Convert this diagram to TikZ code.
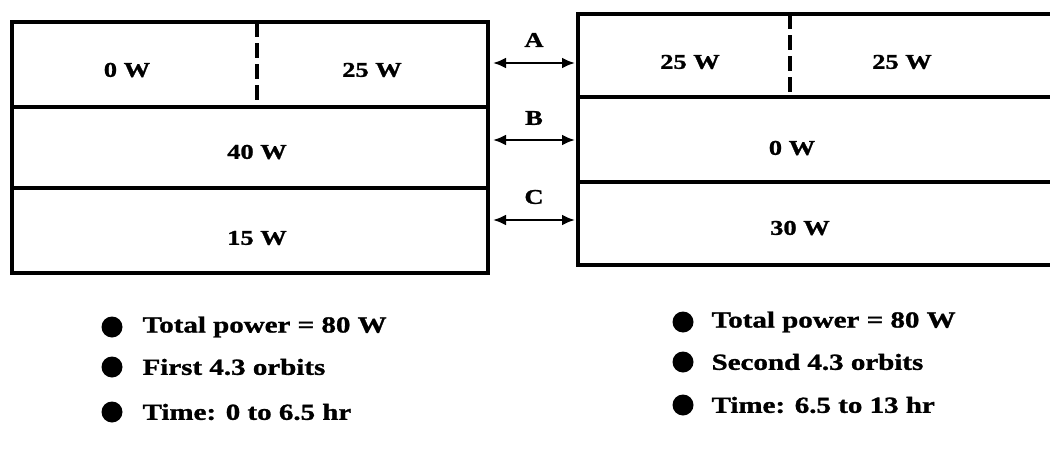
\documentclass[tikz,border=0pt]{standalone}
\usepackage{fontspec}
\setmainfont{Liberation Serif}[FakeStretch=1.26,FakeBold=1.2]
\usetikzlibrary{arrows.meta}
\begin{document}
\begin{tikzpicture}[x=1pt,y=-1pt,line width=3.2pt,
  cell/.style={font=\fontsize{21}{23}\selectfont\bfseries,inner sep=0pt},
  lab/.style={font=\fontsize{21}{23}\selectfont\bfseries,inner sep=0pt},
  note/.style={font=\fontsize{23}{25}\selectfont\bfseries,inner sep=0pt,anchor=west},
  dot/.style={circle,fill=black,minimum size=21pt,inner sep=0pt},
  link/.style={line width=2.4pt,{Latex[length=13pt,width=11pt]}-{Latex[length=13pt,width=11pt]}},
  divider/.style={dash pattern=on 15pt off 6pt}]
\useasboundingbox (0,0) rectangle (1050,463);
% left box
\draw (12,22) rectangle (488,273);
\draw (12,107) -- (488,107);
\draw (12,188) -- (488,188);
\draw[divider] (257,22) -- (257,107);
% right box
\draw (1060,14) -- (578,14) -- (578,265) -- (1060,265);
\draw (578,97) -- (1060,97);
\draw (578,182) -- (1060,182);
\draw[divider] (790,14) -- (790,97);
% cell texts
\node[cell] (l1) at (127,70) {0 W};
\node[cell] (l2) at (372,70) {25 W};
\node[cell] (l3) at (257,152) {40 W};
\node[cell] (l4) at (257,238) {15 W};
\node[cell] (r1) at (690,62) {25 W};
\node[cell] (r2) at (902,62) {25 W};
\node[cell] (r3) at (792,148) {0 W};
\node[cell] (r4) at (800,228) {30 W};
% connectors
\coordinate (aL) at (493,63); \coordinate (aR) at (575,63);
\coordinate (bL) at (493,140); \coordinate (bR) at (575,140);
\coordinate (cL) at (493,220); \coordinate (cR) at (575,220);
\draw[link] (aL) -- (aR);
\draw[link] (bL) -- (bR);
\draw[link] (cL) -- (cR);
\node[lab] (la) at (534,40) {A};
\node[lab] (lb) at (534,118) {B};
\node[lab] (lc) at (534,197) {C};
% notes
\node[dot] (d1) at (112,327) {};
\node[dot] (d2) at (112,367) {};
\node[dot] (d3) at (112,412) {};
\node[note] (n1) at (141,327) {Total power = 80 W};
\node[note] (n2) at (141,367) {First 4.3 orbits};
\node[note] (n3) at (141,412) {Time: 0 to 6.5 hr};
\node[dot] (e1) at (683,322) {};
\node[dot] (e2) at (683,362) {};
\node[dot] (e3) at (683,405) {};
\node[note] (m1) at (710,322) {Total power = 80 W};
\node[note] (m2) at (710,362) {Second 4.3 orbits};
\node[note] (m3) at (710,405) {Time: 6.5 to 13 hr};
\end{tikzpicture}
\end{document}
